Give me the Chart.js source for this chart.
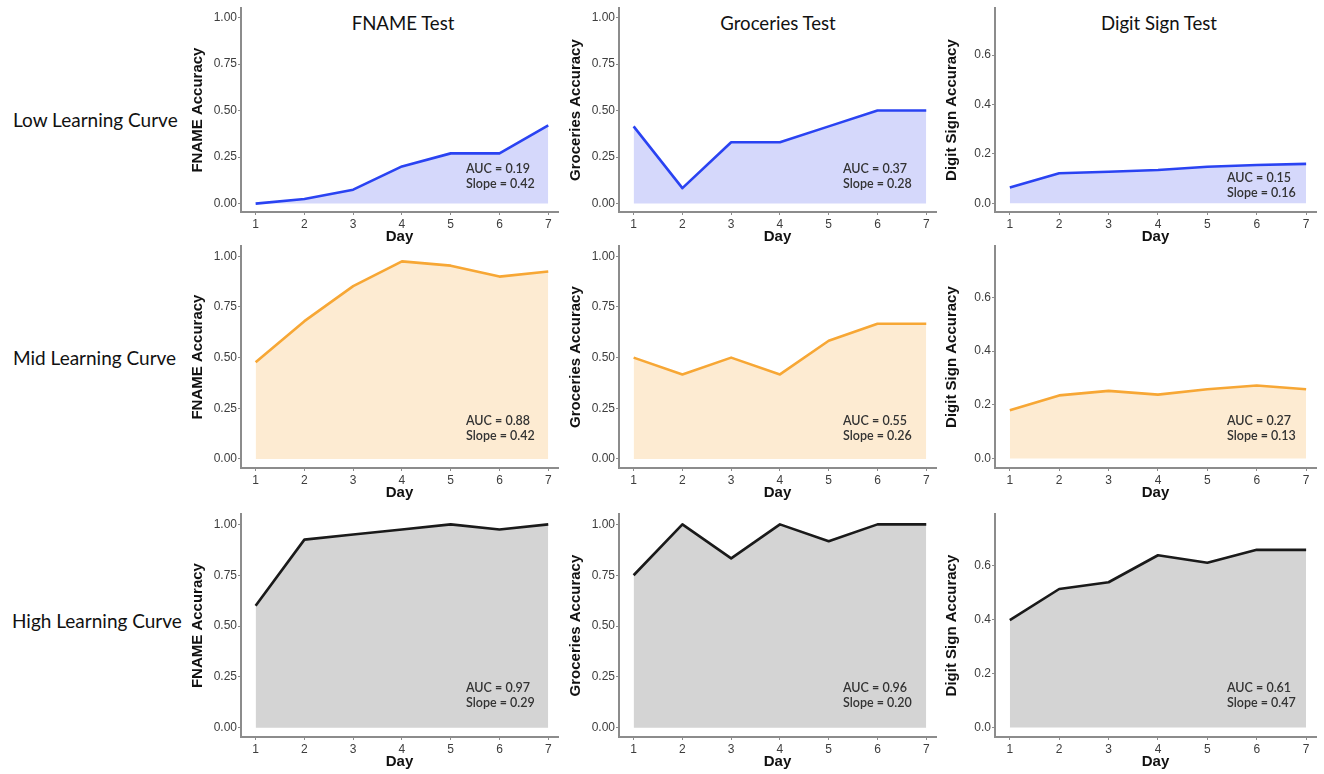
<!DOCTYPE html>
<html>
<head>
<meta charset="utf-8">
<script src="https://cdn.jsdelivr.net/npm/chart.js@4.4.1/dist/chart.umd.min.js"></script>
<style>
  body { margin: 0; background: #fff; width: 1324px; height: 774px; position: relative; overflow: hidden; font-family: Lato, 'Open Sans', sans-serif; }
  canvas { position: absolute; }
  .col-title { position: absolute; font-size: 18.6px; transform: translate(-50%, -50%); white-space: nowrap; color: #111; }
  .row-title { position: absolute; font-size: 19px; transform: translateY(-50%); white-space: nowrap; color: #111; }
</style>
</head>
<body>

<div class="col-title" style="left:403px;top:23px">FNAME Test</div>
<div class="col-title" style="left:778px;top:23px">Groceries Test</div>
<div class="col-title" style="left:1159px;top:23px">Digit Sign Test</div>

<div class="row-title" style="left:13px;top:119px">Low Learning Curve</div>
<div class="row-title" style="left:13px;top:357px">Mid Learning Curve</div>
<div class="row-title" style="left:12px;top:620px">High Learning Curve</div>

<script>
// data
const days = [1, 2, 3, 4, 5, 6, 7];
const dayTicks = [1, 2, 3, 4, 5, 6, 7];
const accTicks = [0, 0.25, 0.5, 0.75, 1];
const digitTicks = [0, 0.2, 0.4, 0.6];

const yTitles = ['FNAME Accuracy', 'Groceries Accuracy', 'Digit Sign Accuracy'];

const lowFname = [0.00, 0.025, 0.075, 0.20, 0.27, 0.27, 0.42];
const lowGroceries = [0.415, 0.083, 0.33, 0.33, 0.415, 0.50, 0.50];
const lowDigit = [0.064, 0.122, 0.128, 0.135, 0.148, 0.155, 0.16];

const midFname = [0.477, 0.68, 0.853, 0.975, 0.954, 0.90, 0.925];
const midGroceries = [0.50, 0.417, 0.50, 0.417, 0.583, 0.667, 0.667];
const midDigit = [0.18, 0.235, 0.252, 0.238, 0.258, 0.272, 0.258];

const highFname = [0.60, 0.925, 0.95, 0.975, 1.00, 0.975, 1.00];
const highGroceries = [0.75, 1.00, 0.833, 1.00, 0.917, 1.00, 1.00];
const highDigit = [0.398, 0.513, 0.538, 0.638, 0.61, 0.658, 0.658];

const aucLow = [0.19, 0.37, 0.15];
const aucMid = [0.88, 0.55, 0.27];
const aucHigh = [0.97, 0.96, 0.61];
const slopeLow = [0.42, 0.28, 0.16];
const slopeMid = [0.42, 0.26, 0.13];
const slopeHigh = [0.29, 0.20, 0.47];

// layout
const colLeft = [241, 619, 995];
const colRight = [558, 936, 1316];
const rowTop = [8, 246, 514];
const rowBottom = [212, 468, 737];
const noteDx = [-92, -93, -89];
const noteDy = [-43, -47, -49];

const rows = [
  { series: [lowFname, lowGroceries, lowDigit], auc: aucLow, slope: slopeLow, line: '#2a43f2', fill: '#d5d8fb' },
  { series: [midFname, midGroceries, midDigit], auc: aucMid, slope: slopeMid, line: '#f7a735', fill: '#fdebd2' },
  { series: [highFname, highGroceries, highDigit], auc: aucHigh, slope: slopeHigh, line: '#1a1a1a', fill: '#d4d4d4' }
];

Chart.defaults.font.family = "'Liberation Sans', Arial, sans-serif";

// AUC / slope text in the lower right of each panel
const notePlugin = {
  id: 'note',
  afterDatasetsDraw(chart, args, opts) {
    const ctx = chart.ctx, area = chart.chartArea;
    ctx.save();
    ctx.font = "600 12.5px Lato, 'Open Sans', sans-serif";
    ctx.fillStyle = '#333';
    ctx.textBaseline = 'middle';
    const x = area.right + opts.dx, y = area.bottom + opts.dy;
    ctx.fillText('AUC = ' + opts.auc.toFixed(2), x, y);
    ctx.fillText('Slope = ' + opts.slope.toFixed(2), x, y + 15);
    ctx.restore();
  }
};

const axisGrey = '#8c8c8c';

rows.forEach(function(row, r) {
  row.series.forEach(function(vals, c) {
    const isDigit = c === 2;
    const yW = 56, padTop = 8, padRight = 4, xH = 36;
    const cv = document.createElement('canvas');
    cv.width = colRight[c] - colLeft[c] + yW + padRight;
    cv.height = rowBottom[r] - rowTop[r] + padTop + xH;
    cv.style.left = (colLeft[c] - yW) + 'px';
    cv.style.top = (rowTop[r] - padTop) + 'px';
    document.body.appendChild(cv);

    const yTicks = isDigit ? digitTicks : accTicks;
    let dy = noteDy[r];
    if (r === 0 && isDigit) dy = -34;

    new Chart(cv, {
      type: 'line',
      data: {
        datasets: [{
          data: days.map((d, i) => ({ x: d, y: vals[i] })),
          borderColor: row.line,
          backgroundColor: row.fill,
          borderWidth: 2.6,
          borderJoinStyle: 'round',
          fill: 'origin',
          tension: 0,
          pointRadius: 0
        }]
      },
      options: {
        responsive: false,
        animation: false,
        layout: { padding: { top: padTop, right: padRight, bottom: 0, left: 0 } },
        plugins: {
          legend: { display: false },
          tooltip: { enabled: false },
          note: { auc: row.auc[c], slope: row.slope[c], dx: noteDx[c], dy: dy }
        },
        scales: {
          x: {
            type: 'linear',
            min: 0.7,
            max: 7.2,
            afterBuildTicks: s => { s.ticks = dayTicks.map(v => ({ value: v })); },
            afterFit: s => { s.height = xH; },
            grid: { drawOnChartArea: false, drawTicks: true, tickLength: 3, color: axisGrey },
            border: { display: true, color: axisGrey, width: 2 },
            ticks: { padding: 2, color: '#3d3d3d', font: { size: 12 }, maxRotation: 0, callback: v => String(v) },
            title: { display: true, text: 'Day', color: '#111', font: { size: 15, weight: 'bold' }, padding: { top: 0, bottom: 2 } }
          },
          y: {
            min: isDigit ? -0.035 : -0.045,
            max: isDigit ? 0.79 : 1.05,
            afterBuildTicks: s => { s.ticks = yTicks.map(v => ({ value: v })); },
            afterFit: s => { s.width = yW; },
            grid: { drawOnChartArea: false, drawTicks: true, tickLength: 3, color: axisGrey },
            border: { display: true, color: axisGrey, width: 2 },
            ticks: { padding: 1, color: '#3d3d3d', font: { size: 12 }, callback: v => v.toFixed(isDigit ? 1 : 2) },
            title: { display: true, text: yTitles[c], color: '#111', font: { size: 15, weight: 'bold' }, padding: { top: 4, bottom: 0 } }
          }
        }
      },
      plugins: [notePlugin]
    });
  });
});
</script>
</body>
</html>
